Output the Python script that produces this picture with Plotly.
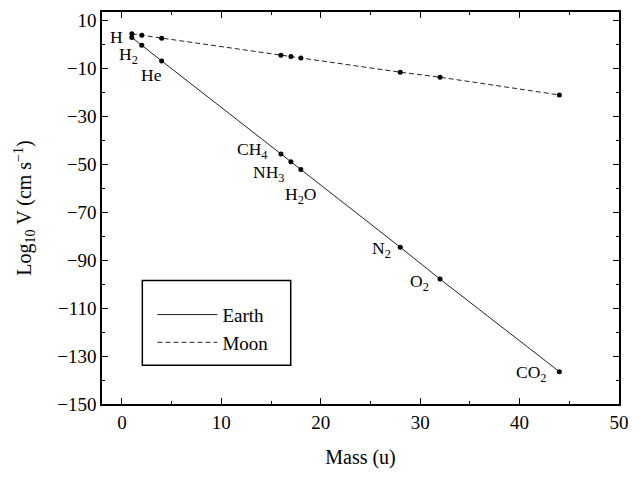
import plotly.graph_objects as go

species = ["H", "H<sub>2</sub>", "He", "CH<sub>4</sub>", "NH<sub>3</sub>", "H<sub>2</sub>O", "N<sub>2</sub>", "O<sub>2</sub>", "CO<sub>2</sub>"]
mass = [1, 2, 4, 16, 17, 18, 28, 32, 44]
earth = [2.9, -0.4, -6.9, -45.7, -49.0, -52.2, -84.6, -97.9, -136.5]
moon = [4.4, 3.8, 2.6, -4.5, -5.1, -5.7, -11.6, -13.7, -21.1]

# label offsets (pixels) relative to each Earth point
label_dx = [-15, -13, -10, -29, -22, 0, -19, -21, -28]
label_dy = [0, -10, -14, 3, -12, -26, -2, -3, -2]

FONT = "Liberation Serif"
INK = "#222222"

fig = go.Figure()
fig.add_trace(go.Scatter(x=mass, y=earth, name="Earth", mode="lines",
                         line=dict(color=INK, width=1)))
fig.add_trace(go.Scatter(x=mass, y=moon, name="Moon", mode="lines",
                         line=dict(color=INK, width=1, dash="5px,3px")))
fig.add_trace(go.Scatter(x=mass, y=earth, mode="markers", showlegend=False,
                         marker=dict(color="black", size=5, symbol="circle")))
fig.add_trace(go.Scatter(x=mass, y=moon, mode="markers", showlegend=False,
                         marker=dict(color="black", size=5, symbol="circle")))

for s, m, e, dx, dy in zip(species, mass, earth, label_dx, label_dy):
    fig.add_annotation(x=m, y=e, text=s, showarrow=False, xanchor="center", yanchor="middle",
                       xshift=dx, yshift=dy, font=dict(family=FONT, size=17.5, color="black"))

# legend frame
fig.add_shape(type="rect", xref="paper", yref="paper", x0=0.078, x1=0.365, y0=0.099, y1=0.315,
              line=dict(color="black", width=1.5), fillcolor="rgba(0,0,0,0)")

fig.update_layout(
    width=639, height=479,
    margin=dict(l=102, r=14, t=10, b=75),
    paper_bgcolor="white", plot_bgcolor="white",
    font=dict(family=FONT, size=19, color="black"),
    showlegend=True,
    legend=dict(x=0.0975, y=0.192, xanchor="left", yanchor="middle", bgcolor="rgba(0,0,0,0)",
                borderwidth=0, font=dict(family=FONT, size=19), tracegroupgap=0, itemwidth=60),
    xaxis=dict(range=[-2, 50], tickmode="array", tickvals=[0, 10, 20, 30, 40, 50],
               ticks="inside", ticklen=6, tickcolor="black", mirror="allticks", showline=True,
               linecolor="black", linewidth=1.5, showgrid=False, zeroline=False,
               minor=dict(ticks="inside", ticklen=3, dtick=5, tick0=0, tickcolor="black"),
               title=dict(text="Mass (u)", font=dict(family=FONT, size=20), standoff=18),
               tickfont=dict(family=FONT, size=19)),
    yaxis=dict(range=[-150, 13.5], tickmode="array", tickvals=[10, -10, -30, -50, -70, -90, -110, -130, -150],
               ticktext=["10", "\u221210", "\u221230", "\u221250", "\u221270", "\u221290", "\u2212110", "\u2212130", "\u2212150"],
               ticks="inside", ticklen=6, tickcolor="black", mirror="allticks", showline=True,
               linecolor="black", linewidth=1.5, showgrid=False, zeroline=False,
               minor=dict(ticks="inside", ticklen=3, dtick=10, tick0=0, tickcolor="black"),
               title=dict(text="Log<sub>10</sub> V (cm s<sup>\u22121</sup>)", font=dict(family=FONT, size=20), standoff=20),
               tickfont=dict(family=FONT, size=19)),
)

fig.write_html("out.html", config={"displayModeBar": False},
               post_script="document.body.style.margin='0';document.body.style.overflow='hidden';")
